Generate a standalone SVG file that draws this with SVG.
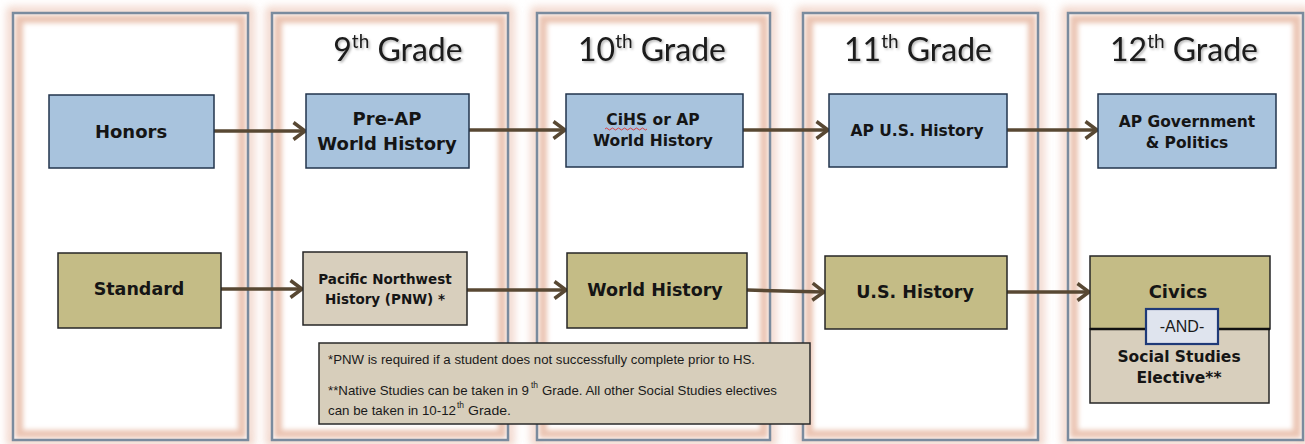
<svg xmlns="http://www.w3.org/2000/svg" width="1305" height="444" viewBox="0 0 1305 444">
<style>
.hdr{font-family:Lato,"Open Sans",sans-serif;font-size:32px;fill:#1a1a1a;text-anchor:middle}
.sup{font-size:19px}
.bt{font-family:"DejaVu Sans",Verdana,sans-serif;font-weight:bold;fill:#151515;text-anchor:middle}
.blue{fill:#a8c3dd;stroke:#22344c;stroke-width:1.5}
.olive{fill:#c4bc86;stroke:#262626;stroke-width:1.5}
.beige{fill:#d8cfbd;stroke:#262626;stroke-width:1.5}
.conn line{stroke:#584833;stroke-width:3.5;marker-end:url(#ah)}
.note{font-family:"Liberation Sans",Arial,sans-serif;font-size:13.5px;fill:#1a1a1a}
.nsup{font-family:"Liberation Sans",Arial,sans-serif;font-size:8.5px;fill:#1a1a1a}
.frame{fill:none;stroke:#7a8b9e;stroke-width:2.5}
.glow{fill:none;stroke:#e3ab94;stroke-width:8;opacity:.55;filter:url(#blur4)}
.band{fill:none;stroke:#ebc5b3;stroke-width:8;filter:url(#blur2)}
</style>
<defs>
<filter id="blur4" x="-10%" y="-10%" width="120%" height="120%"><feGaussianBlur stdDeviation="4"/></filter>
<filter id="blur2" x="-10%" y="-10%" width="120%" height="120%"><feGaussianBlur stdDeviation="2.5"/></filter>
<filter id="tsh" x="-10%" y="-20%" width="120%" height="150%"><feDropShadow dx="1.5" dy="1.5" stdDeviation="1.2" flood-color="#000" flood-opacity="0.3"/></filter>
<marker id="ah" markerUnits="userSpaceOnUse" markerWidth="16" markerHeight="22" refX="13" refY="10" orient="auto">
<path d="M1.5,1.5 L13,10 L1.5,18.5" fill="none" stroke="#584833" stroke-width="3.5" stroke-linejoin="miter"/>
</marker>
<clipPath id="c1"><rect x="13" y="13" width="235" height="427"/></clipPath>
<clipPath id="c2"><rect x="272" y="13" width="236" height="427"/></clipPath>
<clipPath id="c3"><rect x="537" y="13" width="233" height="427"/></clipPath>
<clipPath id="c4"><rect x="803" y="13" width="235" height="427"/></clipPath>
<clipPath id="c5"><rect x="1068" y="13" width="235" height="427"/></clipPath>
</defs>
<rect width="1305" height="444" fill="#ffffff"/>

<g id="col1">
<rect class="glow" x="11" y="11" width="239" height="431"/>
<rect x="13" y="13" width="235" height="427" fill="#fff"/>
<rect class="band" x="19" y="19" width="223" height="415" clip-path="url(#c1)"/>
<rect class="frame" x="13" y="13" width="235" height="427"/>
</g>
<g id="col2">
<rect class="glow" x="270" y="11" width="240" height="431"/>
<rect x="272" y="13" width="236" height="427" fill="#fff"/>
<rect class="band" x="278" y="19" width="224" height="415" clip-path="url(#c2)"/>
<rect class="frame" x="272" y="13" width="236" height="427"/>
<text class="hdr" x="398" y="61" filter="url(#tsh)">9<tspan class="sup" dy="-13">th</tspan><tspan dy="13"> Grade</tspan></text>
</g>
<g id="col3">
<rect class="glow" x="535" y="11" width="237" height="431"/>
<rect x="537" y="13" width="233" height="427" fill="#fff"/>
<rect class="band" x="543" y="19" width="221" height="415" clip-path="url(#c3)"/>
<rect class="frame" x="537" y="13" width="233" height="427"/>
<text class="hdr" x="652" y="61" filter="url(#tsh)">10<tspan class="sup" dy="-13">th</tspan><tspan dy="13"> Grade</tspan></text>
</g>
<g id="col4">
<rect class="glow" x="801" y="11" width="239" height="431"/>
<rect x="803" y="13" width="235" height="427" fill="#fff"/>
<rect class="band" x="809" y="19" width="223" height="415" clip-path="url(#c4)"/>
<rect class="frame" x="803" y="13" width="235" height="427"/>
<text class="hdr" x="918" y="61" filter="url(#tsh)">11<tspan class="sup" dy="-13">th</tspan><tspan dy="13"> Grade</tspan></text>
</g>
<g id="col5">
<rect class="glow" x="1066" y="11" width="239" height="431"/>
<rect x="1068" y="13" width="235" height="427" fill="#fff"/>
<rect class="band" x="1074" y="19" width="223" height="415" clip-path="url(#c5)"/>
<rect class="frame" x="1068" y="13" width="235" height="427"/>
<text class="hdr" x="1184" y="61" filter="url(#tsh)">12<tspan class="sup" dy="-13">th</tspan><tspan dy="13"> Grade</tspan></text>
</g>

<g id="connectors" class="conn">
<line x1="214" y1="131" x2="305" y2="131"/>
<line x1="469" y1="130" x2="565" y2="130"/>
<line x1="743" y1="130" x2="828" y2="130"/>
<line x1="1007" y1="130" x2="1097" y2="130"/>
<line x1="221" y1="289" x2="302" y2="289"/>
<line x1="467" y1="290" x2="566" y2="290"/>
<line x1="747" y1="290" x2="824" y2="292"/>
<line x1="1007" y1="292" x2="1089" y2="292"/>
</g>

<g id="honors">
<rect class="blue" x="49" y="95" width="165" height="73"/>
<text class="bt" x="131" y="138" font-size="18">Honors</text>
</g>
<g id="preap">
<rect class="blue" x="306" y="94" width="163" height="74"/>
<text class="bt" x="387" y="125" font-size="18">Pre-AP</text>
<text class="bt" x="387" y="150" font-size="18">World History</text>
</g>
<g id="cihs">
<rect class="blue" x="566" y="94" width="177" height="73"/>
<text class="bt" x="653" y="125" font-size="15.5">CiHS or AP</text>
<text class="bt" x="653" y="146" font-size="15.5">World History</text>
<path d="M605,129 q1.5,-2 3,0 t3,0 t3,0 t3,0 t3,0 t3,0 t3,0 t3,0 t3,0 t3,0 t3,0 t3,0 t3,0 t3,0" fill="none" stroke="#e03030" stroke-width="0.9"/>
</g>
<g id="apus">
<rect class="blue" x="829" y="94" width="178" height="73"/>
<text class="bt" x="917" y="136" font-size="15.5">AP U.S. History</text>
</g>
<g id="apgov">
<rect class="blue" x="1098" y="94" width="178" height="74"/>
<text class="bt" x="1187" y="127" font-size="15.5">AP Government</text>
<text class="bt" x="1187" y="148" font-size="15.5">&amp; Politics</text>
</g>

<g id="standard">
<rect class="olive" x="58" y="253" width="163" height="75"/>
<text class="bt" x="139" y="295" font-size="17.5">Standard</text>
</g>
<g id="pnw">
<rect class="beige" x="303" y="252" width="164" height="73"/>
<text class="bt" x="385" y="284" font-size="13.5">Pacific Northwest</text>
<text class="bt" x="385" y="304" font-size="13.5">History (PNW) *</text>
</g>
<g id="worldhistory">
<rect class="olive" x="567" y="253" width="180" height="75"/>
<text class="bt" x="655" y="296" font-size="17.5">World History</text>
</g>
<g id="ushistory">
<rect class="olive" x="825" y="256" width="182" height="73"/>
<text class="bt" x="915" y="298" font-size="17.5">U.S. History</text>
</g>
<g id="civics">
<rect class="olive" x="1090" y="256" width="180" height="73"/>
<text class="bt" x="1178" y="298" font-size="18">Civics</text>
</g>
<g id="elective">
<rect class="beige" x="1090" y="329" width="179" height="74"/>
<line x1="1090" y1="329" x2="1270" y2="329" stroke="#111" stroke-width="2.5"/>
<text class="bt" x="1179" y="362" font-size="15.5">Social Studies</text>
<text class="bt" x="1179" y="383" font-size="15.5">Elective**</text>
</g>
<g id="and">
<rect x="1146" y="309" width="72" height="35" fill="#dfe4ee" stroke="#1f3a78" stroke-width="2.2"/>
<text x="1182" y="332" font-family="'Liberation Sans',Arial,sans-serif" font-size="16" fill="#1a1a1a" text-anchor="middle">-AND-</text>
</g>

<g id="note">
<rect x="319" y="343" width="491" height="81" fill="#d7cebb" stroke="#2a2a2a" stroke-width="1.5"/>
<text class="note" x="328" y="364" textLength="427" lengthAdjust="spacingAndGlyphs">*PNW is required if a student does not successfully complete prior to HS.</text>
<text class="note" x="328" y="395" textLength="201" lengthAdjust="spacingAndGlyphs">**Native Studies can be taken in 9</text>
<text class="nsup" x="531" y="388">th</text>
<text class="note" x="542" y="395" textLength="235" lengthAdjust="spacingAndGlyphs">Grade. All other Social Studies electives</text>
<text class="note" x="328" y="415" textLength="128" lengthAdjust="spacingAndGlyphs">can be taken in 10-12</text>
<text class="nsup" x="457" y="408">th</text>
<text class="note" x="468" y="415" textLength="43" lengthAdjust="spacingAndGlyphs">Grade.</text>
</g>
</svg>
